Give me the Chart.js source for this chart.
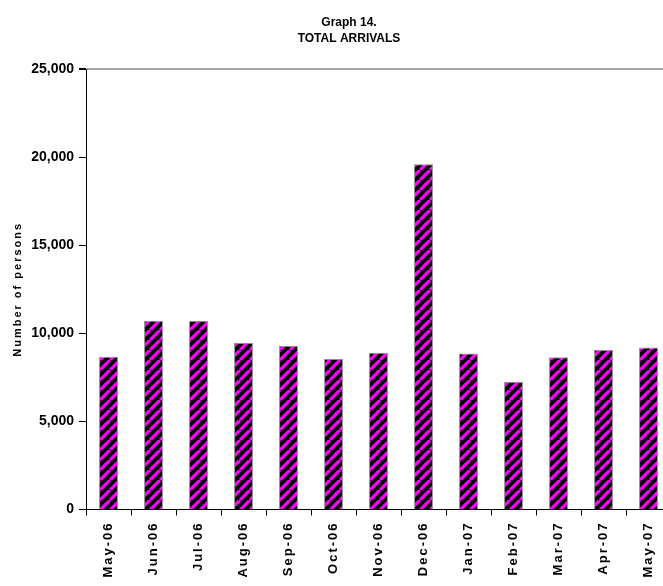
<!DOCTYPE html>
<html>
<head>
<meta charset="utf-8">
<title>Total arrivals</title>
<script src="https://cdn.jsdelivr.net/npm/chart.js@4/dist/chart.umd.min.js"></script>
<style>
  body { margin: 0; background: #fff; overflow: hidden; }
  #wrap { width: 680px; height: 586px; }
</style>
</head>
<body>
<div id="wrap"><canvas id="arrivalsChart" width="680" height="586"></canvas></div>
<script>
const months = [
  "May-06", "Jun-06", "Jul-06", "Aug-06", "Sep-06", "Oct-06", "Nov-06",
  "Dec-06", "Jan-07", "Feb-07", "Mar-07", "Apr-07", "May-07",
];
const arrivals = [
  8670, 10710, 10700, 9450, 9280, 8540, 8900,
  19600, 8860, 7240, 8650, 9050, 9200,
];
const yMax = 25000;
const yStep = 5000;

const sans = "'Liberation Sans', Arial, sans-serif";

// category axis whose labels are drawn letter-spaced
class SpacedCategory extends Chart.CategoryScale {
  drawLabels(area) {
    this.ctx.save();
    this.ctx.letterSpacing = "2px";
    super.drawLabels(area);
    this.ctx.restore();
  }
}
SpacedCategory.id = "spacedCategory";
SpacedCategory.defaults = Chart.CategoryScale.defaults;

// linear axis with a letter-spaced title
class SpacedLinear extends Chart.LinearScale {
  drawTitle() {
    this.ctx.save();
    this.ctx.letterSpacing = "2px";
    super.drawTitle();
    this.ctx.restore();
  }
}
SpacedLinear.id = "spacedLinear";
SpacedLinear.defaults = Chart.LinearScale.defaults;

Chart.register(SpacedCategory, SpacedLinear);

// black fill with magenta "/" stripes
function stripePattern() {
  const c = document.createElement("canvas");
  c.width = 10;
  c.height = 10;
  const g = c.getContext("2d");
  g.fillStyle = "#000000";
  g.fillRect(0, 0, 10, 10);
  g.strokeStyle = "#ff00ff";
  g.lineWidth = 3.2;
  g.beginPath();
  for (let k = -10; k <= 10; k += 10) {
    g.moveTo(k, 10);
    g.lineTo(k + 10, 0);
  }
  g.stroke();
  return g.createPattern(c, "repeat");
}

const ctx = document.getElementById("arrivalsChart").getContext("2d");

new Chart(ctx, {
  type: "bar",
  data: {
    labels: months,
    datasets: [
      {
        data: arrivals,
        backgroundColor: stripePattern(),
        borderColor: "#8c8c8c",
        borderWidth: 1,
        barPercentage: 0.42,
        categoryPercentage: 1,
      },
    ],
  },
  options: {
    responsive: false,
    animation: false,
    devicePixelRatio: 1,
    layout: { padding: { left: 27, right: 9, top: 0, bottom: 0 } },
    plugins: {
      legend: { display: false },
      tooltip: { enabled: false },
      title: {
        display: true,
        text: ["Graph 14.", "TOTAL ARRIVALS"],
        color: "#000",
        font: { family: sans, size: 12, weight: "bold", lineHeight: 1.34 },
        padding: { top: 15, bottom: 22 },
      },
    },
    scales: {
      x: {
        type: "spacedCategory",
        offset: true,
        border: { color: "#000", width: 1 },
        grid: {
          offset: true,
          drawOnChartArea: false,
          tickLength: 6,
          tickColor: "#000",
        },
        ticks: {
          minRotation: 90,
          maxRotation: 90,
          autoSkip: false,
          padding: 6,
          color: "#000",
          font: { family: sans, size: 13, weight: "bold" },
        },
        afterFit: (scale) => {
          scale.height = 76.5;
        },
      },
      y: {
        type: "spacedLinear",
        min: 0,
        max: yMax,
        border: { color: "#000", width: 1 },
        grid: {
          color: (c) => (c.tick && c.tick.value === yMax ? "#a3a3a3" : "rgba(0,0,0,0)"),
          lineWidth: (c) => (c.tick && c.tick.value === yMax ? 2 : 1),
          tickLength: 7,
          tickColor: "#000",
        },
        ticks: {
          stepSize: yStep,
          padding: 5,
          color: "#000",
          font: { family: sans, size: 14, weight: "bold" },
          callback: (v) => v.toLocaleString("en-US"),
        },
        title: {
          display: true,
          text: "Number of persons",
          color: "#000",
          font: { family: sans, size: 11, weight: "bold" },
          padding: { top: -16, bottom: 0 },
        },
        afterFit: (scale) => {
          scale.width = 59;
        },
      },
    },
  },
});
</script>
</body>
</html>
